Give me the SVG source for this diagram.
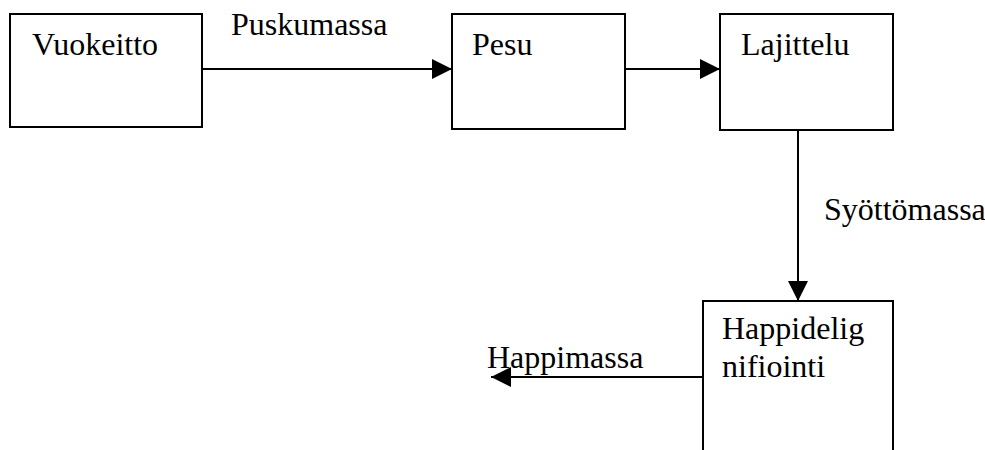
<svg xmlns="http://www.w3.org/2000/svg" width="985" height="450" viewBox="0 0 985 450">
<style>
.box{fill:#fff;stroke:#000;stroke-width:2}
.lbl{font-family:"Liberation Serif","Times New Roman",serif;font-size:32px;fill:#000}
.conn{stroke:#000;stroke-width:2;fill:none}
</style>
<defs>
<marker id="arr" markerUnits="userSpaceOnUse" markerWidth="20" markerHeight="20" refX="20" refY="10" orient="auto">
<path d="M0,0 L20,10 L0,20 z" fill="#000"/>
</marker>
</defs>
<rect width="985" height="450" fill="#fff"/>
<g id="vuokeitto">
<rect class="box" x="10" y="14" width="192" height="113"/>
<text class="lbl" x="32" y="55">Vuokeitto</text>
</g>
<g id="pesu">
<rect class="box" x="452" y="14" width="173" height="115"/>
<text class="lbl" x="472" y="55">Pesu</text>
</g>
<g id="lajittelu">
<rect class="box" x="720" y="14" width="173" height="116"/>
<text class="lbl" x="741" y="55">Lajittelu</text>
</g>
<g id="happidelignifiointi">
<path class="box" d="M703,452 V301 H893 V452"/>
<text class="lbl" x="722" y="339">Happidelig</text>
<text class="lbl" x="722" y="377">nifiointi</text>
</g>
<g id="connectors">
<line class="conn" x1="202" y1="69" x2="452" y2="69" marker-end="url(#arr)"/>
<line class="conn" x1="625" y1="69" x2="720" y2="69" marker-end="url(#arr)"/>
<line class="conn" x1="798" y1="130" x2="798" y2="301" marker-end="url(#arr)"/>
<line class="conn" x1="703" y1="377" x2="491" y2="377" marker-end="url(#arr)"/>
<text class="lbl" x="231" y="35">Puskumassa</text>
<text class="lbl" x="824" y="220">Syöttömassa</text>
<text class="lbl" x="487" y="368">Happimassa</text>
</g>
</svg>
